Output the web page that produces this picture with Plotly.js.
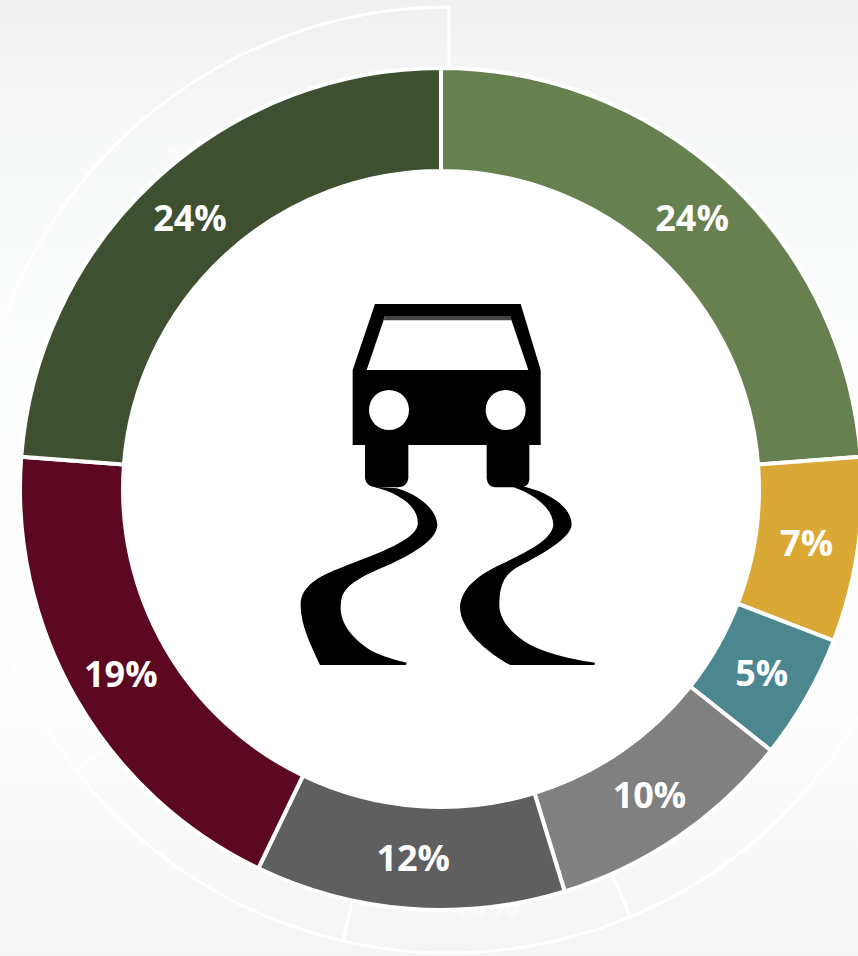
<!DOCTYPE html>
<html><head><meta charset="utf-8">
<script src="https://cdn.plot.ly/plotly-3.0.1.min.js"></script>
<style>
html,body{margin:0;padding:0;width:858px;height:956px;overflow:hidden;
background:radial-gradient(circle 345px at 441px 489px,#fff 0,#fff 100%,transparent 100%),linear-gradient(180deg,#f0f0f0 0,#f7f8f8 14%,#fcfdfd 35%,#fdfdfd 75%,#f5f5f5 100%);}
#plot{position:absolute;left:-100px;top:-50px;width:1100px;height:1100px;}
</style></head><body><div id="plot"></div>
<script>
const sliceNames=['A','B','C','D','E','F','G'];
const shares=[23.8,7.1,4.8,9.6,11.9,19.1,23.8];
const sliceColors=['#678050','#daa935','#4c8790','#808080','#5f5f5f','#5c0821','#3f5030'];
const ghostShares=[27.8,15.95,9.85,10.85,15.15,20.4];
const ghostText=['','','10%','','','\u00a0<br>24%'];
const ghostLineWidths=[0,3,3,3,3,3];

const W=1100;
const icon=`<svg xmlns="http://www.w3.org/2000/svg" viewBox="0 0 990 1170" width="990" height="1170">
<path fill="#000" fill-rule="evenodd" d="M285 42H722L782 240V465H748V570Q745 590 725 592H645Q622 590 620 565V465H385V565Q382 590 355 592H290Q258 590 255 565V465H218V240ZM315 78L260 240H745L690 78Z"/>
<path fill="#444" d="M315 78H690L695 91H311Z"/>
<circle cx="327" cy="360" r="60" fill="#fff"/><circle cx="677" cy="360" r="60" fill="#fff"/>
<path fill="#000" d="M350 595C420 615 470 660 472 705C470 750 400 790 340 818C280 845 195 875 185 925C170 990 210 1040 270 1080C310 1100 350 1112 380 1118L378 1125H120C90 1060 60 1000 62 940C65 890 110 860 190 830C265 800 405 755 413 705C418 650 360 610 280 590Z"/>
<path fill="#000" d="M735 590C810 610 875 650 875 705C870 745 790 790 730 822C670 850 660 885 658 940C655 1000 720 1060 800 1085C860 1105 910 1112 945 1118L943 1125H690C620 1085 540 1020 540 950C545 890 600 850 680 815C745 782 815 750 820 705C820 660 770 615 700 592Z"/>
</svg>`;

const ghost={type:'pie',values:ghostShares,sort:false,direction:'clockwise',rotation:0,hole:0.8,
  domain:{x:[(549-473)/W,(549+473)/W],y:[1-(530+473)/W,1-(530-473)/W]},
  marker:{colors:ghostShares.map(()=> 'rgba(255,255,255,0)'),line:{color:'#ffffff',width:ghostLineWidths}},
  text:ghostText,textinfo:'text',textposition:'inside',insidetextorientation:'horizontal',
  insidetextfont:{family:'Open Sans',size:34,color:'rgba(255,255,255,0.55)',weight:700},
  hoverinfo:'skip',showlegend:false};

const main={type:'pie',labels:sliceNames,values:shares,sort:false,direction:'clockwise',rotation:0,hole:318/421,
  domain:{x:[(541-421)/W,(541+421)/W],y:[1-(539+421)/W,1-(539-421)/W]},
  marker:{colors:sliceColors,line:{color:'#ffffff',width:4}},
  texttemplate:'%{percent:.0%}',textposition:'inside',insidetextorientation:'horizontal',
  insidetextfont:{family:'Open Sans',size:36,color:'#ffffff',weight:700},
  hoverinfo:'skip',showlegend:false};

Plotly.newPlot('plot',[ghost,main],{
  width:W,height:W,margin:{l:0,r:0,t:0,b:0},
  paper_bgcolor:'rgba(0,0,0,0)',plot_bgcolor:'rgba(0,0,0,0)',showlegend:false,
  images:[{source:'data:image/svg+xml;charset=utf-8,'+encodeURIComponent(icon),xref:'paper',yref:'paper',
    x:380/W,y:1-340/W,sizex:330/W,sizey:390/W,sizing:'stretch',xanchor:'left',yanchor:'top',layer:'above'}]
},{staticPlot:true,displayModeBar:false});
</script></body></html>
